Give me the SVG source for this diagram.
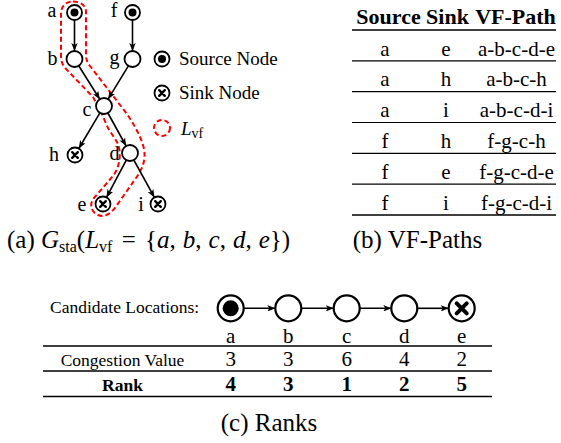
<svg xmlns="http://www.w3.org/2000/svg" width="561" height="443" viewBox="0 0 561 443">
<style>
text { font-family: "Liberation Serif", "Times New Roman", "DejaVu Serif", serif; fill: #000; }
.node { fill: #fff; stroke: #000; stroke-width: 1.8; }
.bnode { fill: #fff; stroke: #000; stroke-width: 2.2; }
.dot { fill: #000; }
.x { stroke: #000; stroke-width: 2.4; stroke-linecap: round; }
.bx { stroke: #000; stroke-width: 4; stroke-linecap: round; }
.edge { stroke: #000; stroke-width: 1.6; fill: none; marker-end: url(#arr); }
.lasso { fill: none; stroke: #f00; stroke-width: 2; stroke-dasharray: 5 3; }
.lbl { font-size: 20px; }
.leg { font-size: 19px; }
.th { font-size: 22px; font-weight: bold; text-anchor: middle; }
.td { font-size: 21px; text-anchor: middle; }
.rule { stroke: #000; stroke-width: 1.5; }
.rule2 { stroke: #000; stroke-width: 1.2; }
.cap { font-size: 25px; }
.small { font-size: 17.5px; }
.num { font-size: 21px; text-anchor: middle; }
.it { font-style: italic; }
</style>
<defs>
<marker id="arr" viewBox="0 0 10 8" refX="10" refY="4" markerWidth="8" markerHeight="6.4" markerUnits="userSpaceOnUse" orient="auto">
<path d="M0,0 L10,4 L0,8 L2.5,4 Z" fill="#000"/>
</marker>
</defs>

<!-- (a) graph -->
<path id="lasso" class="lasso" d="M73,1.5 C80,1.5 86,5 86,12 L86,55 C86,59 87,62 90,66 L127,114 C133,123 140,135 143,145 C147,158 143,168 136,178 L117,205 C112,213 105,218 98,215 C91,212 89,204 94,198 L113,176 C120,167 122,152 117,142 L108,128 L101,112 L93,97 L67,70 C63,66 61,62 61,56 L61,14 C61,6 66,1.5 73,1.5 Z"/>

<g id="connectors">
<line class="edge" x1="74.5" y1="20.5" x2="74.5" y2="51"/>
<line class="edge" x1="132.5" y1="20.5" x2="132.5" y2="51"/>
<line class="edge" x1="78.7" y1="65.8" x2="99.8" y2="99.2"/>
<line class="edge" x1="128.4" y1="65.8" x2="108.1" y2="99.2"/>
<line class="edge" x1="99.9" y1="112.9" x2="78.8" y2="148.5"/>
<line class="edge" x1="107.9" y1="113" x2="126.1" y2="146"/>
<line class="edge" x1="126.3" y1="160.1" x2="106.5" y2="197.4"/>
<line class="edge" x1="133.8" y1="160" x2="154.4" y2="197.4"/>
<line class="edge" x1="243.7" y1="308.3" x2="275.3" y2="308.3"/>
<line class="edge" x1="301.3" y1="308.3" x2="333.7" y2="308.3"/>
<line class="edge" x1="359.7" y1="308.3" x2="391.3" y2="308.3"/>
<line class="edge" x1="417.3" y1="308.3" x2="448.7" y2="308.3"/>
</g>

<g id="node-a"><circle class="node" cx="74.5" cy="12.5" r="7.5"/><circle class="dot" cx="74.5" cy="12.5" r="4"/><text class="lbl" x="52" y="17" text-anchor="middle">a</text></g>
<g id="node-f"><circle class="node" cx="132.5" cy="12.5" r="7.5"/><circle class="dot" cx="132.5" cy="12.5" r="4"/><text class="lbl" x="114" y="17" text-anchor="middle">f</text></g>
<g id="node-b"><circle class="node" cx="74.5" cy="59" r="8"/><text class="lbl" x="52.5" y="65" text-anchor="middle">b</text></g>
<g id="node-g"><circle class="node" cx="132.5" cy="59" r="8"/><text class="lbl" x="114.5" y="64" text-anchor="middle">g</text></g>
<g id="node-c"><circle class="node" cx="104" cy="106" r="8"/><text class="lbl" x="87" y="116" text-anchor="middle">c</text></g>
<g id="node-h"><circle class="node" cx="75" cy="155" r="7.5"/><path class="x" d="M72.2,152.2 L77.8,157.8 M77.8,152.2 L72.2,157.8"/><text class="lbl" x="54" y="161" text-anchor="middle">h</text></g>
<g id="node-d"><circle class="node" cx="130" cy="153" r="8"/><text class="lbl" x="114.5" y="160" text-anchor="middle">d</text></g>
<g id="node-e"><circle class="node" cx="103" cy="204" r="7.5"/><path class="x" d="M100.2,201.2 L105.8,206.8 M105.8,201.2 L100.2,206.8"/><text class="lbl" x="82" y="211" text-anchor="middle">e</text></g>
<g id="node-i"><circle class="node" cx="158" cy="204" r="7.5"/><path class="x" d="M155.2,201.2 L160.8,206.8 M160.8,201.2 L155.2,206.8"/><text class="lbl" x="141" y="211" text-anchor="middle">i</text></g>

<!-- legend -->
<g id="legend">
<circle class="node" cx="162" cy="59" r="7.5"/><circle class="dot" cx="162" cy="59" r="4"/>
<text class="leg" x="179" y="65">Source Node</text>
<circle class="node" cx="162" cy="93" r="7.5"/><path class="x" d="M159.2,90.2 L164.8,95.8 M164.8,90.2 L159.2,95.8"/>
<text class="leg" x="179" y="99">Sink Node</text>
<circle class="lasso" cx="162" cy="128" r="8"/>
<text class="leg" x="181" y="135"><tspan class="it">L</tspan><tspan font-size="14" dy="3">vf</tspan></text>
</g>

<!-- (b) table -->
<g id="vf-table">
<text class="th" x="388.5" y="24">Source</text>
<text class="th" x="447.5" y="24">Sink</text>
<text class="th" x="515.5" y="24">VF-Path</text>
<line class="rule" x1="352" y1="30" x2="556" y2="30"/>
<text class="td" x="385" y="55.5">a</text><text class="td" x="446" y="55.5">e</text><text class="td" x="516.5" y="55.5">a-b-c-d-e</text>
<line class="rule2" x1="352" y1="60.8" x2="556" y2="60.8"/>
<text class="td" x="385" y="86.3">a</text><text class="td" x="446" y="86.3">h</text><text class="td" x="516.5" y="86.3">a-b-c-h</text>
<line class="rule2" x1="352" y1="91.7" x2="556" y2="91.7"/>
<text class="td" x="385" y="117.2">a</text><text class="td" x="446" y="117.2">i</text><text class="td" x="516.5" y="117.2">a-b-c-d-i</text>
<line class="rule2" x1="352" y1="122.5" x2="556" y2="122.5"/>
<text class="td" x="385" y="148">f</text><text class="td" x="446" y="148">h</text><text class="td" x="516.5" y="148">f-g-c-h</text>
<line class="rule2" x1="352" y1="153.3" x2="556" y2="153.3"/>
<text class="td" x="385" y="178.8">f</text><text class="td" x="446" y="178.8">e</text><text class="td" x="516.5" y="178.8">f-g-c-d-e</text>
<line class="rule2" x1="352" y1="184.2" x2="556" y2="184.2"/>
<text class="td" x="385" y="209.7">f</text><text class="td" x="446" y="209.7">i</text><text class="td" x="516.5" y="209.7">f-g-c-d-i</text>
<line class="rule" x1="352" y1="215" x2="556" y2="215"/>
</g>

<!-- captions -->
<text class="cap" x="7" y="248">(a) <tspan class="it">G</tspan><tspan font-size="16" dy="4">sta</tspan><tspan dy="-4">(</tspan><tspan class="it">L</tspan><tspan font-size="16" dy="4">vf</tspan><tspan dy="-4" dx="3"> = </tspan><tspan dx="3">{</tspan><tspan class="it">a</tspan>,<tspan class="it" dx="7">b</tspan>,<tspan class="it" dx="7">c</tspan>,<tspan class="it" dx="7">d</tspan>,<tspan class="it" dx="7">e</tspan>})</text>
<text class="cap" x="417.5" y="248" text-anchor="middle">(b) VF-Paths</text>
<text class="cap" x="269" y="431" text-anchor="middle">(c) Ranks</text>

<!-- (c) ranks -->
<text class="small" x="50" y="313">Candidate Locations:</text>
<g id="cand-a"><circle class="bnode" cx="230.7" cy="308.3" r="13"/><circle class="dot" cx="230.7" cy="308.3" r="8"/><text class="num" x="230.7" y="343">a</text></g>
<g id="cand-b"><circle class="bnode" cx="288.3" cy="308.3" r="13"/><text class="num" x="288.3" y="343">b</text></g>
<g id="cand-c"><circle class="bnode" cx="346.7" cy="308.3" r="13"/><text class="num" x="346.7" y="343">c</text></g>
<g id="cand-d"><circle class="bnode" cx="404.3" cy="308.3" r="13"/><text class="num" x="404.3" y="343">d</text></g>
<g id="cand-e"><circle class="bnode" cx="461.7" cy="308.3" r="13"/><path class="bx" d="M456.7,303.3 L466.7,313.3 M466.7,303.3 L456.7,313.3"/><text class="num" x="461.7" y="343">e</text></g>

<g id="rank-table">
<line class="rule" x1="43" y1="346" x2="492" y2="346"/>
<text class="small" x="122.5" y="366" text-anchor="middle">Congestion Value</text>
<text class="num" x="230.7" y="366">3</text><text class="num" x="288.3" y="366">3</text><text class="num" x="346.7" y="366">6</text><text class="num" x="404.3" y="366">4</text><text class="num" x="461.7" y="366">2</text>
<line class="rule" x1="43" y1="371" x2="492" y2="371"/>
<text class="small" x="122.5" y="391" text-anchor="middle" font-weight="bold">Rank</text>
<text class="num" x="230.7" y="391" font-weight="bold">4</text><text class="num" x="288.3" y="391" font-weight="bold">3</text><text class="num" x="346.7" y="391" font-weight="bold">1</text><text class="num" x="404.3" y="391" font-weight="bold">2</text><text class="num" x="461.7" y="391" font-weight="bold">5</text>
<line class="rule" x1="43" y1="396.5" x2="492" y2="396.5"/>
</g>
</svg>
